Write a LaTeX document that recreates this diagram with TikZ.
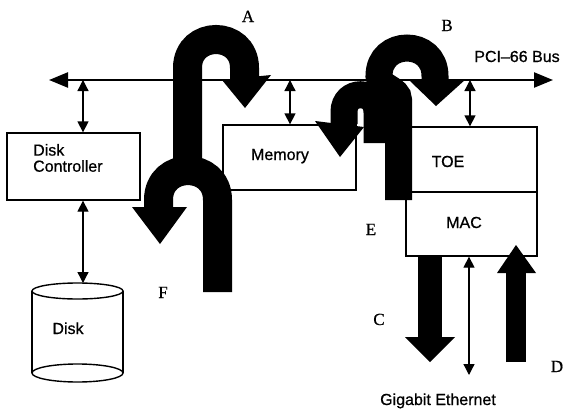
\documentclass[tikz,border=0pt]{standalone}
\usepackage{fontspec}
\setmainfont{Liberation Sans}[FakeBold=0.7]
\newfontfamily\letterfont{Liberation Serif}[FakeBold=0.6]
\usetikzlibrary{arrows.meta}
\begin{document}
\begin{tikzpicture}[x=1pt,y=-1pt,
  box/.style={draw, line width=1.3pt, inner sep=0pt},
  txt/.style={font=\fontsize{16}{16}\selectfont, inner sep=0pt},
  letter/.style={font=\letterfont\fontsize{17}{17}\selectfont, inner sep=0pt, anchor=base},
  bus/.style={line width=2.4pt, {Triangle[length=19pt,width=15pt]}-{Triangle[length=19pt,width=15pt]}},
  link/.style={line width=1.3pt, {Triangle[length=11pt,width=11pt]}-{Triangle[length=11pt,width=11pt]}},
  flow/.style={line width=#1, line cap=butt, black},
  flow/.default=28pt]
\fill[white] (0,0) rectangle (566,410);
\useasboundingbox (0,0) rectangle (566,410);

% system bus
\coordinate (busL) at (49,80);
\coordinate (busR) at (553,80);
\draw[bus] (busL) -- (busR);
\node[txt, anchor=base] (pci) at (517,62) {PCI–66 Bus};

% components
\node[box, minimum width=133pt, minimum height=67pt] (dc) at (73.5,166.5) {};
\node[txt, anchor=base west] (dcl1) at (33,155.6) {Disk};
\node[txt, anchor=base west] (dcl2) at (33,171.7) {Controller};
\node[box, minimum width=133pt, minimum height=65pt] (mem) at (289.5,157.5) {};
\node[txt, anchor=base] (meml) at (280,160) {Memory};
\node[box, minimum width=131pt, minimum height=65pt] (toe) at (471.5,159.5) {};
\node[txt, anchor=base] (toel) at (448,167) {TOE};
\node[box, minimum width=131pt, minimum height=64pt] (mac) at (471.5,224) {};
\node[txt, anchor=base] (macl) at (464,228) {MAC};

% disk drum
\draw[line width=1.4pt] (32,291) -- (32,373) (123,291) -- (123,373);
\draw[line width=1.4pt, fill=white] (77.5,291) ellipse [x radius=45.5, y radius=8];
\draw[line width=1.4pt] (77.5,373) ellipse [x radius=45.5, y radius=9];
\node[txt, anchor=base] (diskl) at (68,334) {Disk};
\coordinate (disktop) at (83,283);

% bus taps and links
\coordinate (tapDC) at (83,80);
\coordinate (tapMem) at (290,80);
\coordinate (tapTOE) at (470,80);
\coordinate (eth) at (469,375);
\draw[link] (tapDC) -- (tapDC |- dc.north);
\draw[link] (tapMem) -- (tapMem |- mem.north);
\draw[link] (tapTOE) -- (tapTOE |- toe.north);
\draw[link] (disktop |- dc.south) -- (disktop);
\draw[link] (eth |- mac.south) -- (eth);
\node[txt, anchor=base] (ethl) at (438,405) {Gigabit Ethernet};

% data flow F
\draw[flow=29pt] (217.5,292) -- (217.5,200)
  .. controls (217.5,160.7) and (158.5,160.7) .. (158.5,200) -- (158.5,208);
\fill (132,207) -- (187,207) -- (160,244) -- cycle;
% data flow A
\draw[flow=29pt] (187.5,168) -- (187.5,68)
  .. controls (187.5,30) and (244.5,30) .. (244.5,68) -- (244.5,80);
\fill (222,80) -- (271,75) -- (245,108) -- cycle;
% data flow E
\draw[flow=27pt] (377,143) -- (377,112)
  .. controls (377,89) and (344,89) .. (344,112) -- (344,124);
\fill (315,121) -- (364,127) -- (340,157) -- cycle;
% data flow B
\draw[flow=27pt] (398.5,200) -- (398.5,100)
  .. controls (398.5,88) and (379,88) .. (379,76)
  .. controls (379,38.7) and (435,38.7) .. (435,76) -- (435,81);
\fill (410,81) -- (466,79) -- (436,106) -- cycle;
% data flows C and D
\draw[flow=24pt] (430,255) -- (430,338);
\fill (405,337) -- (455,337) -- (430,362) -- cycle;
\draw[flow=20pt] (516,362) -- (516,272);
\fill (497,273) -- (536,273) -- (516,245) -- cycle;

% flow labels
\node[letter] (lA) at (248,22) {A};
\node[letter] (lB) at (447,31) {B};
\node[letter] (lC) at (379,325) {C};
\node[letter] (lD) at (557,372) {D};
\node[letter] (lE) at (371,235) {E};
\node[letter] (lF) at (163,298) {F};
\end{tikzpicture}
\end{document}
